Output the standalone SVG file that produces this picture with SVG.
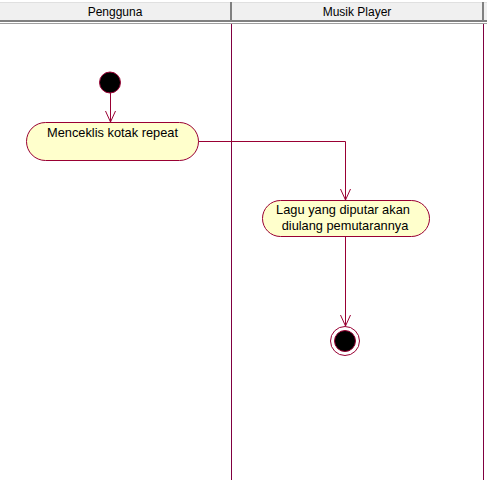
<svg xmlns="http://www.w3.org/2000/svg" width="487" height="480" viewBox="0 0 487 480">
<style>
.hdr{font-family:"Liberation Sans",Arial,sans-serif;font-size:12px;fill:#000;text-anchor:middle}
.lbl{font-family:"Liberation Sans",Arial,sans-serif;font-size:12.8px;fill:#000;text-anchor:middle}
.act{fill:#ffffcc;stroke:#990033;stroke-width:1}
.edge{fill:none;stroke:#990033;stroke-width:1}
.lane{stroke:#800040;stroke-width:1}
</style>
<defs>
<marker id="arr" viewBox="0 0 12 12" refX="11" refY="6" markerWidth="12" markerHeight="12" markerUnits="userSpaceOnUse" orient="auto">
<path d="M0,1 L11,6 L0,11" fill="none" stroke="#990033" stroke-width="1"/>
</marker>
</defs>
<rect x="0" y="0" width="487" height="480" fill="#ffffff"/>
<g id="header">
<rect x="0" y="2" width="487" height="19" fill="#f0f0f0"/>
<line x1="0" y1="2.5" x2="487" y2="2.5" stroke="#e0e0e0"/>
<rect x="0" y="20" width="487" height="2" fill="#808080"/>
<rect x="0" y="23" width="487" height="1" fill="#a0a0a0"/>
<rect x="230" y="2" width="2" height="18" fill="#808080"/>
<rect x="482" y="2" width="2" height="18" fill="#808080"/>
<text class="hdr" x="115" y="16">Pengguna</text>
<text class="hdr" x="357" y="16">Musik Player</text>
</g>
<g id="lanes">
<line class="lane" x1="231.5" y1="24" x2="231.5" y2="480"/>
<line class="lane" x1="483.5" y1="24" x2="483.5" y2="480"/>
</g>
<g id="start">
<circle cx="110" cy="82.5" r="10.5" fill="#000" stroke="#990033" stroke-width="1"/>
</g>
<g id="act1">
<rect class="act" x="26.5" y="122.5" width="172" height="38" rx="19" ry="19"/>
<text class="lbl" x="112.5" y="137">Menceklis kotak repeat</text>
</g>
<g id="act2">
<rect class="act" x="262.5" y="200.5" width="167" height="36" rx="18" ry="18"/>
<text class="lbl" x="343" y="214">Lagu yang diputar akan</text>
<text class="lbl" x="345" y="230">diulang pemutarannya</text>
</g>
<g id="end">
<circle cx="345" cy="341" r="14.5" fill="#fff" stroke="#990033" stroke-width="1"/>
<circle cx="345" cy="341" r="10.5" fill="#000" stroke="#990033" stroke-width="1"/>
</g>
<g id="connectors">
<path class="edge" d="M110.5,93 L110.5,122" marker-end="url(#arr)"/>
<path class="edge" d="M198.5,141.5 L345.5,141.5 L345.5,200" marker-end="url(#arr)"/>
<path class="edge" d="M345.5,237 L345.5,326" marker-end="url(#arr)"/>
</g>
</svg>
